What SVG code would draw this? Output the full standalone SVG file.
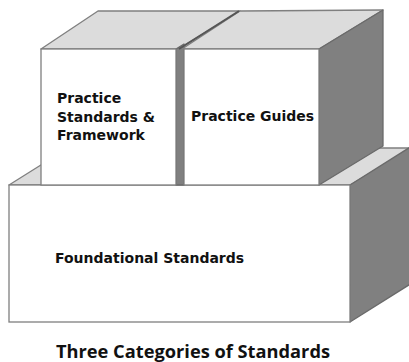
<svg xmlns="http://www.w3.org/2000/svg" width="409" height="362" viewBox="0 0 409 362">
<style>
.front{fill:#ffffff;stroke:#7f7f7f;stroke-width:1.3}
.top{fill:#dcdcdc;stroke:#7f7f7f;stroke-width:1.3;stroke-linejoin:round}
.side{fill:#808080;stroke:#6a6a6a;stroke-width:1.3;stroke-linejoin:round}
.lbl{font-family:"DejaVu Sans",Verdana,sans-serif;font-weight:bold;font-size:14px;fill:#111111}
.title{font-family:"Open Sans","DejaVu Sans",sans-serif;font-weight:bold;font-size:18px;fill:#111111}
</style>
<rect width="409" height="362" fill="#ffffff"/>
<g id="foundational">
<polygon class="top" points="9,185 68,148 412,148 350,185"/>
<polygon class="side" points="350,185 412,146 412,283 350,322"/>
<rect class="front" x="9" y="185" width="341" height="137"/>
<text class="lbl" x="55" y="263">Foundational Standards</text>
</g>
<g id="practice-standards">
<polygon class="top" points="41,49 98,11 240,11 178,49"/>
<polygon class="side" points="176,49 184,44 184,185 176,185"/>
<rect class="front" x="41" y="49" width="135" height="136"/>
<text class="lbl" x="57" y="103">Practice</text>
<text class="lbl" x="57" y="122">Standards &amp;</text>
<text class="lbl" x="57" y="140">Framework</text>
</g>
<g id="practice-guides">
<polygon class="top" points="182,49 240,11 383,10 319,49"/>
<line x1="179" y1="49" x2="239" y2="11" stroke="#555" stroke-width="2"/>
<polygon class="side" points="319,49 383,10 383,146 319,185"/>
<rect class="front" x="184" y="49" width="135" height="136"/>
<text class="lbl" x="191" y="121">Practice Guides</text>
</g>
<text class="title" x="56" y="358" textLength="274" lengthAdjust="spacingAndGlyphs">Three Categories of Standards</text>
</svg>
